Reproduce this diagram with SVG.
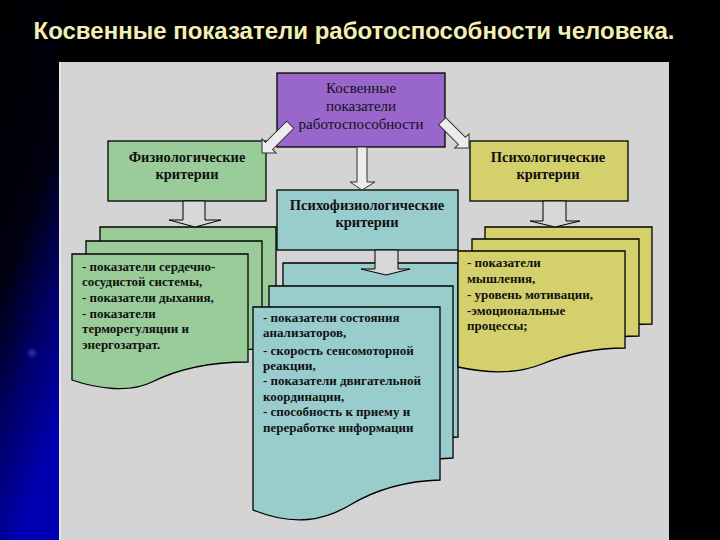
<svg xmlns="http://www.w3.org/2000/svg" xmlns:xlink="http://www.w3.org/1999/xlink" width="720" height="540" viewBox="0 0 720 540">
<defs>
<linearGradient id="bgblue" x1="0" y1="0" x2="0.3" y2="1">
<stop offset="0" stop-color="#000000"/>
<stop offset="0.5" stop-color="#000010"/>
<stop offset="0.75" stop-color="#00006a"/>
<stop offset="1" stop-color="#0000b0"/>
</linearGradient>
<radialGradient id="dot">
<stop offset="0" stop-color="#3030c0"/>
<stop offset="1" stop-color="#3030c0" stop-opacity="0"/>
</radialGradient>
<style>
.box{stroke:#000;stroke-width:1.3}
.purple{fill:#9966cc}
.green{fill:#99cc99}
.teal{fill:#99cccc}
.yellow{fill:#d4d06c}
.hd{font-family:"Liberation Serif","DejaVu Serif",serif;font-weight:bold;font-size:14.5px;fill:#111;text-anchor:middle}
.hn{font-family:"Liberation Serif","DejaVu Serif",serif;font-size:15px;fill:#111;text-anchor:middle}
.bd{font-family:"Liberation Serif","DejaVu Serif",serif;font-weight:bold;font-size:13px;fill:#111}
.arr{fill:#ececec;stroke:#333;stroke-width:1}
.darr{fill:#d8d8d8;stroke:#000;stroke-width:1}
</style>
<path id="gdoc" d="M72,254 H248 V362 C200,362 172,372 152,382 C130,393 98,389 72,380 Z"/>
<path id="ydoc" d="M458,251 H625 V348 C588,348 562,356 542,364 C520,373 490,374 458,367 Z"/>
</defs>
<rect x="0" y="0" width="720" height="540" fill="#000"/>
<rect x="0" y="0" width="60" height="540" fill="url(#bgblue)"/>
<circle cx="32" cy="353" r="6" fill="url(#dot)"/>
<rect x="59" y="62" width="610" height="478" fill="#d4d4d4"/>
<line x1="60" y1="62" x2="60" y2="540" stroke="#e6e6e6" stroke-width="2"/>

<text x="354" y="39" font-family="'Liberation Sans',Arial,sans-serif" font-size="24" font-weight="bold" fill="#f3efb4" text-anchor="middle">Косвенные показатели работоспособности человека.</text>

<g id="phys-stack">
<use xlink:href="#gdoc" transform="translate(28,-27)" class="green box"/>
<use xlink:href="#gdoc" transform="translate(14,-13)" class="green box"/>
<use xlink:href="#gdoc" class="green box"/>
<text class="bd" x="82" y="271">- показатели сердечно-</text>
<text class="bd" x="82" y="286">сосудистой системы,</text>
<text class="bd" x="82" y="302">- показатели дыхания,</text>
<text class="bd" x="82" y="318">- показатели</text>
<text class="bd" x="82" y="333">терморегуляции и</text>
<text class="bd" x="82" y="349">энергозатрат.</text>
</g>

<g id="psychophys-stack">
<path class="teal box" d="M283,263 H458 V437 C425,438 395,447 370,462 C345,477 315,484 283,467 Z"/>
<path class="teal box" d="M269,286 H453 V458 C418,459 388,468 363,483 C338,498 308,505 269,489 Z"/>
<path class="teal box" d="M253,307 H440 V480 C405,481 375,490 350,505 C325,520 295,527 253,510 Z"/>
<text class="bd" x="263" y="322">- показатели состояния</text>
<text class="bd" x="263" y="337">анализаторов,</text>
<text class="bd" x="263" y="355">- скорость сенсомоторной</text>
<text class="bd" x="263" y="370">реакции,</text>
<text class="bd" x="263" y="385">- показатели двигательной</text>
<text class="bd" x="263" y="401">координации,</text>
<text class="bd" x="263" y="416">- способность к приему и</text>
<text class="bd" x="263" y="432">переработке информации</text>
</g>

<g id="psych-stack">
<use xlink:href="#ydoc" transform="translate(27,-24)" class="yellow box"/>
<use xlink:href="#ydoc" transform="translate(14,-12)" class="yellow box"/>
<use xlink:href="#ydoc" class="yellow box"/>
<text class="bd" x="467" y="267">- показатели</text>
<text class="bd" x="467" y="283">мышления,</text>
<text class="bd" x="467" y="299">- уровень мотивации,</text>
<text class="bd" x="467" y="315">-эмоциональные</text>
<text class="bd" x="467" y="330">процессы;</text>
</g>

<g id="root">
<rect class="purple box" x="277" y="73" width="168" height="74"/>
<text class="hn" x="361" y="93">Косвенные</text>
<text class="hn" x="361" y="111">показатели</text>
<text class="hn" x="361" y="129">работоспособности</text>
</g>

<g id="phys">
<rect class="green box" x="108" y="141" width="158" height="60"/>
<text class="hd" x="187" y="162">Физиологические</text>
<text class="hd" x="187" y="179">критерии</text>
</g>

<g id="psych">
<rect class="yellow box" x="470" y="141" width="158" height="60"/>
<text class="hd" x="548" y="162">Психологические</text>
<text class="hd" x="548" y="179">критерии</text>
</g>

<g id="psychophys">
<rect class="teal box" x="277" y="190" width="181" height="60"/>
<text class="hd" x="367" y="210">Психофизиологические</text>
<text class="hd" x="367" y="227">критерии</text>
</g>

<g id="connectors">
<polygon class="arr" points="-40,-5 -10,-5 -10,-10 0,0 -10,10 -10,5 -40,5" transform="translate(262,153) rotate(135)"/>
<polygon class="arr" points="-38,-5 -10,-5 -10,-10 0,0 -10,10 -10,5 -38,5" transform="translate(469,148) rotate(45)"/>
<polygon class="arr" points="357,147 367,147 367,182 375,182 362,190 350,182 357,182"/>
<polygon class="darr" points="183,201 205,201 205,220 221,220 195,227 169,220 183,220"/>
<polygon class="darr" points="543,201 566,201 566,221 580,221 555,227 530,221 543,221"/>
<polygon class="darr" points="375,250 398,250 398,269 410,269 386,275 361,269 375,269"/>
</g>
</svg>
